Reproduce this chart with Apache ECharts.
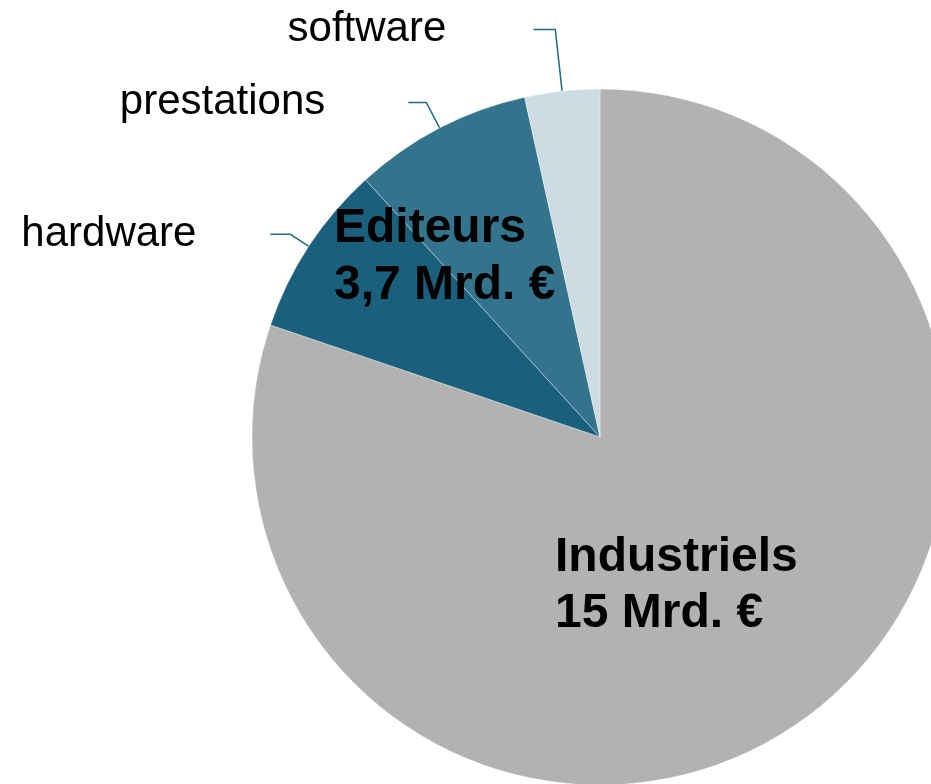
<!DOCTYPE html>
<html>
<head>
<meta charset="utf-8">
<script src="https://cdn.jsdelivr.net/npm/echarts@6/dist/echarts.min.js"></script>
<style>
    html, body { margin: 0; padding: 0; background: #fff; }
    #main { width: 931px; height: 784px; }
</style>
</head>
<body>
<div id="main"></div>
<script>
// données (Mrd. €)
let names = ['Industriels', 'hardware', 'prestations', 'software'];
let values = [15, 1.5, 1.55, 0.65];
let colors = ['#b2b2b2', '#1a607c', '#34738c', '#cddbe3'];
// longueur des traits de repère par segment
let lineLen = [0, 22, 29, 62];
let lineLen2 = [0, 20, 18, 22];
let labelGap = [0, 74, 83, 87];
// textes en gras
let groupTitles = ['Industriels\n15 Mrd. €', 'Editeurs\n3,7 Mrd. €'];

(function () {
    let myChart = echarts.init(document.getElementById('main'));

    let data = names.map(function (n, i) {
        return {
            name: n,
            value: values[i],
            itemStyle: { color: colors[i] },
            label: { show: i > 0, distanceToLabelLine: labelGap[i] },
            labelLine: { show: i > 0, length: lineLen[i], length2: lineLen2[i] }
        };
    });

    let option = {
        animation: false,
        graphic: [
            {
                type: 'text',
                left: 555,
                top: 530,
                z: 100,
                style: {
                    text: groupTitles[0],
                    font: 'bold 48px "Liberation Sans", Arial, sans-serif',
                    lineHeight: 56,
                    fill: '#000'
                }
            },
            {
                type: 'text',
                left: 334,
                top: 200,
                z: 100,
                style: {
                    text: groupTitles[1],
                    font: 'bold 48px "Liberation Sans", Arial, sans-serif',
                    lineHeight: 57,
                    fill: '#000'
                }
            }
        ],
        series: [
            {
                type: 'pie',
                center: [600, 437],
                radius: 348,
                startAngle: 90,
                clockwise: true,
                avoidLabelOverlap: false,
                itemStyle: {
                    borderColor: 'rgba(255,255,255,0.45)',
                    borderWidth: 0.8
                },
                label: {
                    position: 'outside',
                    formatter: '{b}',
                    color: '#000',
                    fontSize: 42,
                    fontFamily: '"Liberation Sans", Arial, sans-serif'
                },
                labelLine: {
                    lineStyle: { color: '#1f6a85', width: 1.5 }
                },
                emphasis: { disabled: true },
                data: data
            }
        ]
    };
    myChart.setOption(option);
    window.addEventListener('resize', function () {
        myChart.resize();
    })
})();
</script>
</body>
</html>
